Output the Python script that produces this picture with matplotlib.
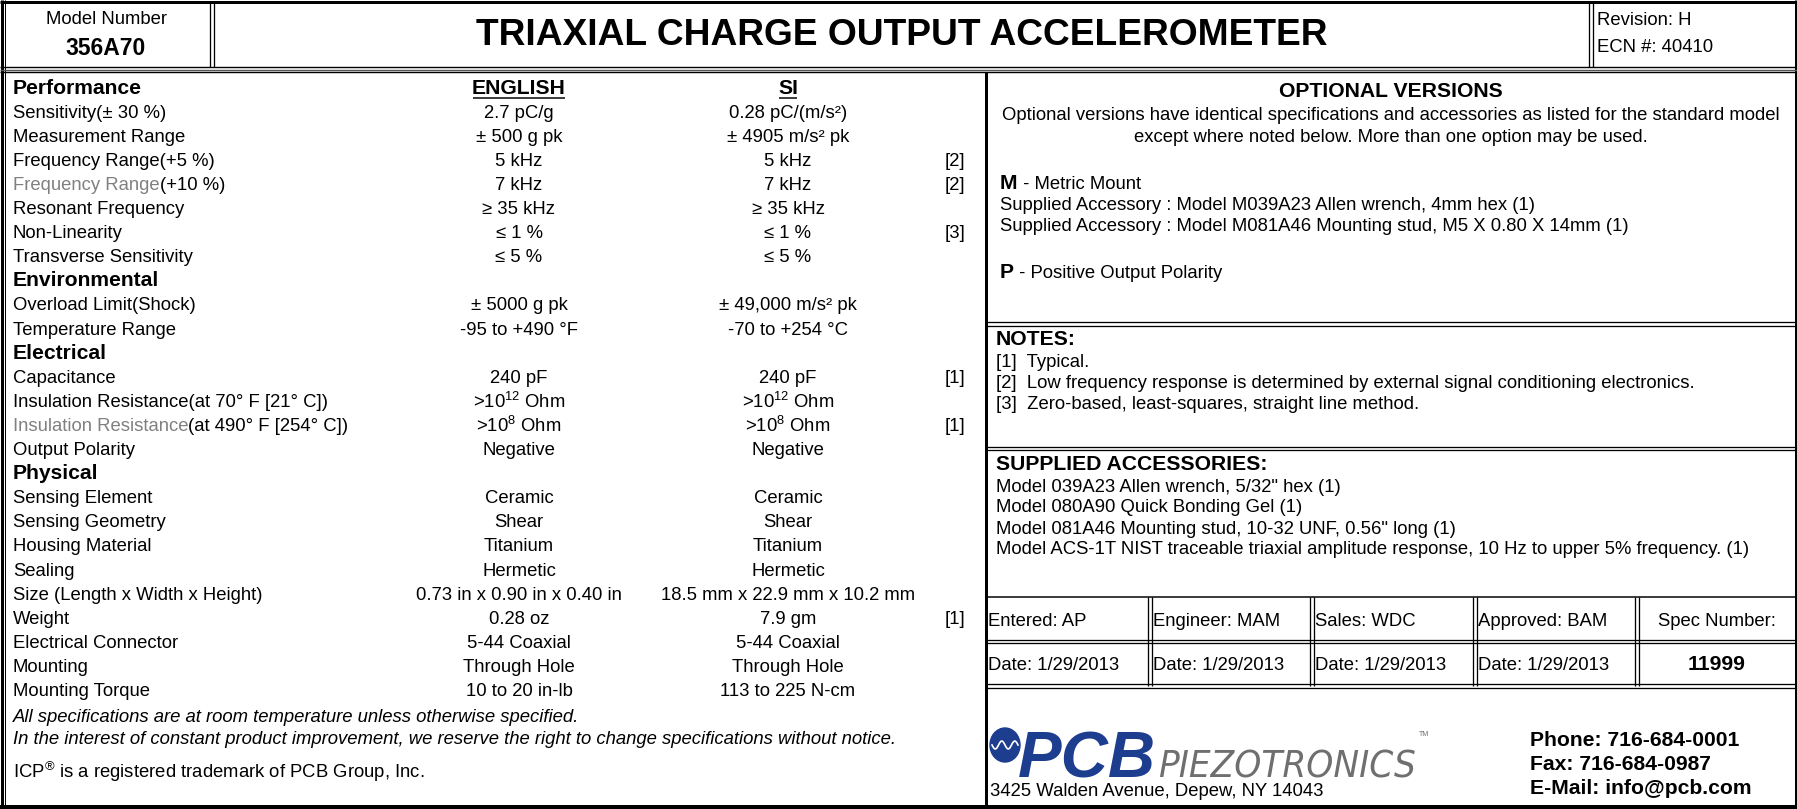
import matplotlib
matplotlib.use("Agg")
import matplotlib.pyplot as plt
from matplotlib import font_manager
from matplotlib.font_manager import FontProperties
from matplotlib.patches import Ellipse
import numpy as np

W, H, DPI = 1797, 809, 100

# ---------------- fonts ----------------
names = {f.name for f in font_manager.fontManager.ttflist}
BASE = 'Liberation Sans' if 'Liberation Sans' in names else 'DejaVu Sans'
plt.rcParams['font.family'] = [BASE, 'DejaVu Sans']
plt.rcParams['mathtext.fontset'] = 'custom'
plt.rcParams['mathtext.rm'] = BASE
plt.rcParams['mathtext.it'] = BASE + ':italic'
plt.rcParams['mathtext.bf'] = BASE + ':bold'
plt.rcParams['mathtext.default'] = 'regular'

narrow_fp = None
cands = [f for f in font_manager.fontManager.ttflist
         if 'narrow' in f.name.lower() or 'condensed' in str(f.stretch).lower()
         or 'condensed' in f.fname.lower() or 'narrow' in f.fname.lower()]
cands_it = [f for f in cands
            if ('italic' in f.fname.lower() or 'oblique' in f.fname.lower()
                or f.style in ('italic', 'oblique'))
            and 'bold' not in f.fname.lower()]
if cands_it:
    narrow_fp = FontProperties(fname=cands_it[0].fname)

# ---------------- data ----------------
model_label = "Model Number"
model_number = "356A70"
title = "TRIAXIAL CHARGE OUTPUT ACCELEROMETER"
revision = "Revision: H"
ecn = "ECN #: 40410"

col_headers = ["ENGLISH", "SI"]

row_labels = [
    "Performance", "Sensitivity(± 30 %)", "Measurement Range", "Frequency Range(+5 %)",
    "Frequency Range(+10 %)", "Resonant Frequency", "Non-Linearity", "Transverse Sensitivity",
    "Environmental", "Overload Limit(Shock)", "Temperature Range",
    "Electrical", "Capacitance", "Insulation Resistance(at 70° F [21° C])",
    "Insulation Resistance(at 490° F [254° C])", "Output Polarity",
    "Physical", "Sensing Element", "Sensing Geometry", "Housing Material", "Sealing",
    "Size (Length x Width x Height)", "Weight", "Electrical Connector", "Mounting",
    "Mounting Torque",
]
row_gray_prefix = [
    "", "", "", "", "Frequency Range", "", "", "",
    "", "", "",
    "", "", "", "Insulation Resistance", "",
    "", "", "", "", "", "", "", "", "", "",
]
row_is_section = [
    True, False, False, False, False, False, False, False,
    True, False, False,
    True, False, False, False, False,
    True, False, False, False, False, False, False, False, False, False,
]
row_english = [
    "", "2.7 pC/g", "± 500 g pk", "5 kHz", "7 kHz", "≥ 35 kHz", "≤ 1 %", "≤ 5 %",
    "", "± 5000 g pk", "-95 to +490 °F",
    "", "240 pF", ">10$^{12}$ Ohm", ">10$^{8}$ Ohm", "Negative",
    "", "Ceramic", "Shear", "Titanium", "Hermetic", "0.73 in x 0.90 in x 0.40 in",
    "0.28 oz", "5-44 Coaxial", "Through Hole", "10 to 20 in-lb",
]
row_si = [
    "", "0.28 pC/(m/s²)", "± 4905 m/s² pk", "5 kHz", "7 kHz", "≥ 35 kHz", "≤ 1 %", "≤ 5 %",
    "", "± 49,000 m/s² pk", "-70 to +254 °C",
    "", "240 pF", ">10$^{12}$ Ohm", ">10$^{8}$ Ohm", "Negative",
    "", "Ceramic", "Shear", "Titanium", "Hermetic", "18.5 mm x 22.9 mm x 10.2 mm",
    "7.9 gm", "5-44 Coaxial", "Through Hole", "113 to 225 N-cm",
]
row_note = [
    "", "", "", "[2]", "[2]", "", "[3]", "",
    "", "", "",
    "", "[1]", "", "[1]", "",
    "", "", "", "", "", "", "[1]", "", "", "",
]

footer_notes = [
    "All specifications are at room temperature unless otherwise specified.",
    "In the interest of constant product improvement, we reserve the right to change specifications without notice.",
]
trademark = "ICP$^{®}$ is a registered trademark of PCB Group, Inc."

opt_title = "OPTIONAL VERSIONS"
opt_intro = [
    "Optional versions have identical specifications and accessories as listed for the standard model",
    "except where noted below. More than one option may be used.",
]
opt_m_key, opt_m_text = "M", " - Metric Mount"
opt_m_lines = [
    "Supplied Accessory : Model M039A23 Allen wrench, 4mm hex (1)",
    "Supplied Accessory : Model M081A46 Mounting stud, M5 X 0.80 X 14mm (1)",
]
opt_p_key, opt_p_text = "P", " - Positive Output Polarity"

notes_title = "NOTES:"
notes = [
    "[1]  Typical.",
    "[2]  Low frequency response is determined by external signal conditioning electronics.",
    "[3]  Zero-based, least-squares, straight line method.",
]
acc_title = "SUPPLIED ACCESSORIES:"
accessories = [
    'Model 039A23 Allen wrench, 5/32" hex (1)',
    "Model 080A90 Quick Bonding Gel (1)",
    'Model 081A46 Mounting stud, 10-32 UNF, 0.56" long (1)',
    "Model ACS-1T NIST traceable triaxial amplitude response, 10 Hz to upper 5% frequency. (1)",
]
signoff_top = ["Entered: AP", "Engineer: MAM", "Sales: WDC", "Approved: BAM"]
signoff_bottom = ["Date: 1/29/2013", "Date: 1/29/2013", "Date: 1/29/2013", "Date: 1/29/2013"]
spec_label = "Spec Number:"
spec_number = "11999"
contact = ["Phone: 716-684-0001", "Fax: 716-684-0987", "E-Mail: info@pcb.com"]
address = "3425 Walden Avenue, Depew, NY 14043"
logo_a, logo_b = "PCB", "PIEZOTRONICS"

# ---------------- figure ----------------
fig = plt.figure(figsize=(W / DPI, H / DPI), dpi=DPI)
ax = fig.add_axes([0, 0, 1, 1])
ax.set_xlim(0, W)
ax.set_ylim(H, 0)
ax.axis('off')
R = fig.canvas.get_renderer()

FS = 13.3
FSB = 15.2
GRAY = '#808080'


def pt(v):
    return v * 72.0 / DPI


def hl(y, x0, x1, w=1.5, c='black'):
    ax.plot([x0, x1], [y, y], color=c, lw=pt(w), solid_capstyle='butt')


def vl(x, y0, y1, w=1.5, c='black'):
    ax.plot([x, x], [y0, y1], color=c, lw=pt(w), solid_capstyle='butt')


def dbl_h(y, x0, x1):
    hl(y - 1.6, x0, x1, 1.3)
    hl(y + 1.6, x0, x1, 1.3)


def dbl_v(x, y0, y1):
    vl(x - 1.6, y0, y1, 1.3)
    vl(x + 1.6, y0, y1, 1.3)


def T(x, y, s, **kw):
    kw.setdefault('fontsize', FS)
    kw.setdefault('va', 'center')
    kw.setdefault('ha', 'left')
    return ax.text(x, y, s, **kw)


def ext(t):
    return t.get_window_extent(renderer=R)


# ---------------- frame lines ----------------
vl(1.5, 0, H, 3)
vl(4.8, 0, H, 1)
vl(1795.5, 0, H, 3)
hl(1.5, 0, W, 3)
hl(806.5, 0, W, 4)
hl(67, 0, W, 1.4)
hl(69.5, 0, W, 1.4, '#555555')
hl(72, 0, W, 1.4)
dbl_v(212, 2, 67)
dbl_v(1591, 2, 67)
vl(985.5, 72, 806, 3)
dbl_h(324, 985, W)
dbl_h(448.5, 985, W)
hl(597, 985, W, 1.5)
dbl_h(641.5, 985, W)
dbl_h(686, 985, W)
for xd in [1150, 1312, 1475, 1637]:
    dbl_v(xd, 597, 686)

# ---------------- header ----------------
T(106, 19, model_label, ha='center')
T(106, 48, model_number, ha='center', fontsize=16.5, fontweight='bold')
T(902, 35, title, ha='center', fontsize=26.7, fontweight='bold')
T(1597, 20, revision)
T(1597, 47, ecn)

# ---------------- spec table ----------------
X_LAB, X_EN, X_SI, X_NOTE = 13, 519, 788, 955
Y0, DY = 88.0, 24.1
for i, lab in enumerate(row_labels):
    y = Y0 + i * DY
    if row_is_section[i]:
        T(X_LAB, y, lab, fontsize=FSB, fontweight='bold')
        continue
    y += 1.0
    pre = row_gray_prefix[i]
    if pre:
        t1 = T(X_LAB, y, pre, color=GRAY)
        T(ext(t1).x1, y, lab[len(pre):])
    else:
        T(X_LAB, y, lab)
    if row_english[i]:
        T(X_EN, y, row_english[i], ha='center')
    if row_si[i]:
        T(X_SI, y, row_si[i], ha='center')
    if row_note[i]:
        T(X_NOTE, y, row_note[i], ha='center')

for xc, h in zip([X_EN, X_SI], col_headers):
    t = T(xc, Y0, h, ha='center', fontsize=FSB, fontweight='bold')
    bb = ext(t)
    hl(98.2, bb.x0 + 1, bb.x1 - 1, 1.5)

T(X_LAB, 718, footer_notes[0], fontstyle='italic')
T(X_LAB, 740, footer_notes[1], fontstyle='italic')
T(X_LAB, 772, trademark)

# ---------------- right panel ----------------
XR = 1000
XC = 1391
T(XC, 91, opt_title, ha='center', fontsize=FSB, fontweight='bold')
T(XC, 115, opt_intro[0], ha='center')
T(XC, 137, opt_intro[1], ha='center')
tm = T(XR, 183, opt_m_key, fontsize=FSB, fontweight='bold')
T(ext(tm).x1, 184, opt_m_text)
T(XR, 205, opt_m_lines[0])
T(XR, 226, opt_m_lines[1])
tp = T(XR, 272, opt_p_key, fontsize=FSB, fontweight='bold')
T(ext(tp).x1, 273, opt_p_text)

T(996, 339, notes_title, fontsize=FSB, fontweight='bold')
for k, s in enumerate(notes):
    T(996, 362 + k * 21, s)

T(996, 464, acc_title, fontsize=FSB, fontweight='bold')
for k, s in enumerate(accessories):
    T(996, 487 + k * 21, s)

for xs, s1, s2 in zip([988, 1153, 1315, 1478], signoff_top, signoff_bottom):
    T(xs, 621, s1)
    T(xs, 666, s2)
T(1717, 621, spec_label, ha='center')
T(1717, 665, spec_number, ha='center', fontsize=FSB, fontweight='bold')

for k, s in enumerate(contact):
    T(1530, 741 + k * 23.5, s, fontsize=FSB, fontweight='bold')

T(990, 791, address)

# ---------------- logo ----------------
BLUE = '#1d3d8f'
ax.add_patch(Ellipse((1005, 745), 30, 34, color=BLUE, zorder=3))
ww = np.linspace(992, 1018, 30)
ax.plot(ww, 745 + 4 * np.sin((ww - 992) / 26 * 4 * np.pi), color='white', lw=1.2, zorder=4)
ta = ax.text(1018, 777, logo_a, fontsize=44, fontweight='bold', fontstyle='italic',
             color=BLUE, ha='left', va='baseline')
wa = ext(ta).width
ta.set_fontsize(44 * 138 / wa)
if narrow_fp is not None:
    tb = ax.text(1158, 777, logo_b, fontproperties=narrow_fp, fontsize=40,
                 color='#6f6f6f', ha='left', va='baseline')
else:
    tb = ax.text(1158, 777, logo_b, fontsize=40, fontstyle='italic',
                 color='#6f6f6f', ha='left', va='baseline')
wb = ext(tb).width
tb.set_fontsize(40 * 258 / wb)
T(1419, 735, "TM", fontsize=5, color='#6f6f6f')

fig.savefig("out.png", dpi=DPI)
